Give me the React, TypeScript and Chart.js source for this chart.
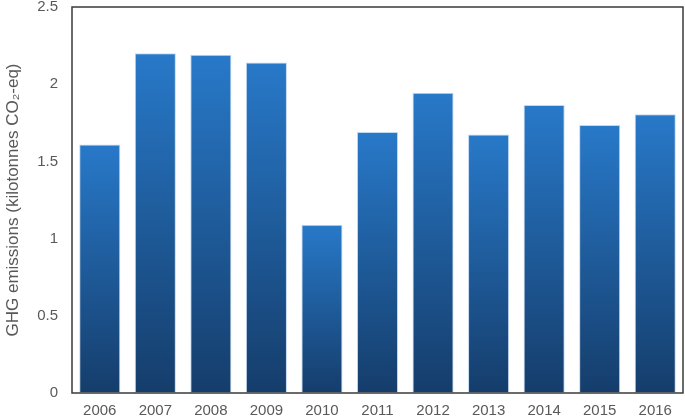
import React, { useEffect, useRef } from "react";
import { Chart, registerables } from "chart.js";

Chart.register(...registerables);

const years = ["2006", "2007", "2008", "2009", "2010", "2011", "2012", "2013", "2014", "2015", "2016"];
const emissions = [1.61, 2.2, 2.19, 2.14, 1.09, 1.69, 1.945, 1.675, 1.865, 1.735, 1.805];
const yTicks = [0, 0.5, 1, 1.5, 2, 2.5];
const yTitle = "GHG emissions (kilotonnes CO\u2082-eq)";

const frame = {
  id: "frame",
  afterDraw(chart: any) {
    const { ctx, chartArea } = chart;
    ctx.save();
    ctx.strokeStyle = "#3a3a3a";
    ctx.lineWidth = 1.5;
    ctx.strokeRect(chartArea.left, chartArea.top, chartArea.right - chartArea.left, chartArea.bottom - chartArea.top);
    ctx.restore();
  },
};

export default function App() {
  const ref = useRef<HTMLCanvasElement | null>(null);
  useEffect(() => {
    document.body.style.margin = "0";
    const canvas = ref.current!;
    const chart = new Chart(canvas, {
      type: "bar",
      data: {
        labels: years,
        datasets: [
          {
            data: emissions,
            backgroundColor: (ctx: any) => {
              const c = ctx.chart;
              const area = c.chartArea;
              if (!area || ctx.raw == null) return "#2170b8";
              const ys = c.scales.y;
              const top = ys.getPixelForValue(ctx.raw);
              const bottom = ys.getPixelForValue(0);
              const g = c.ctx.createLinearGradient(0, top, 0, bottom);
              g.addColorStop(0, "#2879c9");
              g.addColorStop(1, "#153d6b");
              return g;
            },
            borderColor: "rgba(170,200,235,0.7)",
            borderWidth: 1,
            borderSkipped: false,
            barPercentage: 0.74,
            categoryPercentage: 1,
          },
        ],
      },
      options: {
        animation: false,
        responsive: false,
        maintainAspectRatio: false,
        layout: { padding: { top: 7, right: 2, left: 0, bottom: 0 } },
        plugins: { legend: { display: false }, tooltip: { enabled: false } },
        scales: {
          x: {
            grid: { display: false, drawTicks: false },
            border: { display: false },
            ticks: {
              color: "#595959",
              font: { family: "'Liberation Sans', Arial, sans-serif", size: 15 },
              padding: 9,
              maxRotation: 0,
            },
            afterFit: (s: any) => {
              s.height = 25;
              s.paddingLeft = 0;
              s.paddingRight = 0;
            },
          },
          y: {
            min: 0,
            max: 2.5,
            grid: { display: false, drawTicks: false },
            border: { display: false },
            afterBuildTicks: (s: any) => {
              s.ticks = yTicks.map((v) => ({ value: v }));
            },
            ticks: {
              color: "#595959",
              font: { family: "'Liberation Sans', Arial, sans-serif", size: 15 },
              padding: 14,
              callback: (v: any) => String(v),
            },
            title: {
              display: true,
              text: yTitle,
              color: "#595959",
              font: { family: "'Liberation Sans', Arial, sans-serif", size: 17 },
              padding: { top: 3, bottom: 0 },
            },
            afterFit: (s: any) => {
              s.width = 72;
              s.paddingTop = 0;
              s.paddingBottom = 0;
            },
          },
        },
      },
      plugins: [frame],
    });
    return () => chart.destroy();
  }, []);
  return <canvas ref={ref} width={685} height={418} style={{ display: "block" }} />;
}
